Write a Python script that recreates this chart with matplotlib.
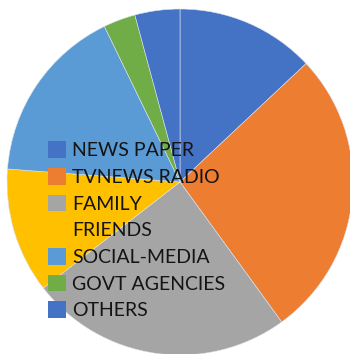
import matplotlib
matplotlib.use("Agg")
import matplotlib.pyplot as plt

categories = ["NEWS PAPER", "TVNEWS RADIO", "FAMILY", "FRIENDS",
              "SOCIAL-MEDIA", "GOVT AGENCIES", "OTHERS"]
shares = [13, 27, 24.5, 11.7, 16.6, 3, 4.2]
colors = ["#4472C4", "#ED7D31", "#A5A5A5", "#FFC000",
          "#5B9BD5", "#70AD47", "#4472C4"]

W, H, DPI = 350, 354, 100
fig = plt.figure(figsize=(W / DPI, H / DPI), dpi=DPI)
ax = fig.add_axes([0, 0, 1, 1])

# pie centre and radius in pixels
cx, cy, r = 180, 182, 173
wedges, _ = ax.pie(shares, colors=colors, startangle=90, counterclock=False,
                   radius=1.0,
                   wedgeprops=dict(linewidth=0.4, edgecolor="#dce3f0"))
ax.set_xlim(-cx / r, (W - cx) / r)
ax.set_ylim(-(H - cy) / r, cy / r)
ax.set_aspect("auto")
ax.axis("off")

leg = ax.legend(wedges, categories, loc="upper left",
                bbox_to_anchor=(44 / W, 1 - 137.5 / H),
                bbox_transform=fig.transFigure,
                frameon=False, prop=dict(family="Lato", size=14),
                handlelength=0.95, handleheight=0.95, handletextpad=0.3,
                labelspacing=0.44, borderpad=0.2, borderaxespad=0)
for t in leg.get_texts():
    t.set_color("#141414")
for h in leg.legend_handles:
    h.set_linewidth(0)

fig.savefig("out.png", dpi=DPI)
